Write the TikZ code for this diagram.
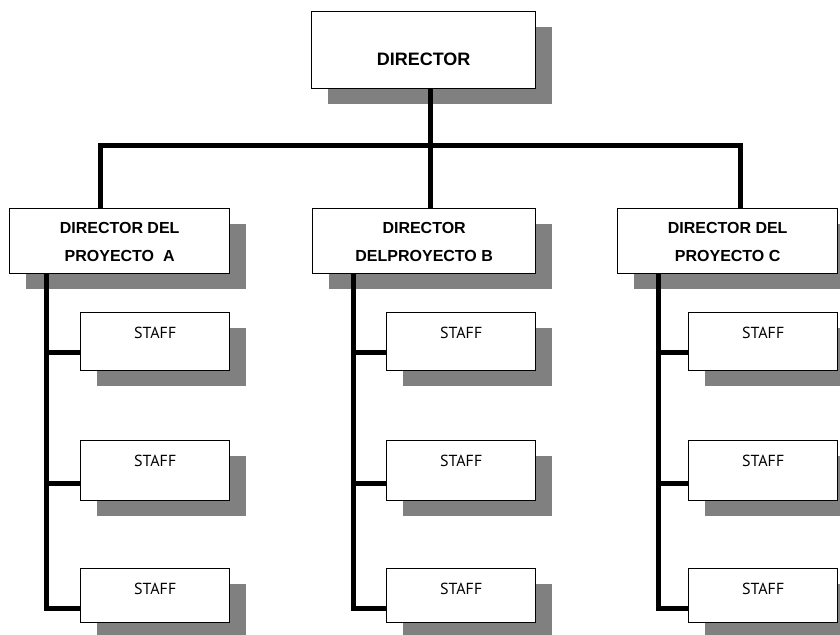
\documentclass[tikz,border=0pt]{standalone}
\usepackage{fontspec}
\setmainfont{Liberation Sans}
\newfontfamily\stafffont{PT Sans}
\usetikzlibrary{shadows}
\begin{document}
\begin{tikzpicture}[x=1bp,y=-1bp,
 box/.style={draw=black, line width=1.3bp, fill=white, inner sep=0pt, anchor=north west,
   drop shadow={shadow xshift=16bp, shadow yshift=-15bp, fill=black!50, opacity=1}},
 dbox/.style={box, minimum height=65bp},
 sbox/.style={box, minimum width=149bp},
 conn/.style={line width=5bp},
 dtext/.style={font=\bfseries\fontsize{16bp}{28bp}\selectfont, align=center, inner sep=0pt},
 stext/.style={font=\stafffont\fontsize{16bp}{19bp}\selectfont, inner sep=0pt}]
\clip (0,0) rectangle (840,635);
% director
\node[box, minimum width=224bp, minimum height=77bp] (D) at (311,11) {};
% project directors
\node[dbox, minimum width=220bp] (A) at (9,208) {};
\node[dbox, minimum width=223bp] (B) at (312,208) {};
\node[dbox, minimum width=220bp] (C) at (617,208) {};
% staff
\foreach \c/\x in {A/80, B/386, C/688}{
  \node[sbox, minimum height=58bp] (\c1) at (\x,312) {};
  \node[sbox, minimum height=60bp] (\c2) at (\x,440) {};
  \node[sbox, minimum height=54bp] (\c3) at (\x,568) {};
}
% texts
\node[dtext, font=\bfseries\fontsize{18bp}{20bp}\selectfont] (tD) at ([yshift=-9bp]D.center) {DIRECTOR};
\node[dtext] (tA) at ([yshift=-1bp]A.center) {DIRECTOR DEL\\PROYECTO~ A};
\node[dtext] (tB) at ([yshift=-1bp]B.center) {DIRECTOR\\DELPROYECTO B};
\node[dtext] (tC) at ([yshift=-1bp]C.center) {DIRECTOR DEL\\PROYECTO C};
\foreach \c in {A,B,C}{
  \foreach \r in {1,2,3}{
    \node[stext] (s\c\r) at ([yshift=-20.5bp]\c\r.north) {STAFF};
  }
}
% top connectors
\coordinate (bar) at (0,145.5);
\coordinate (pA) at ([xshift=91bp]A.north west);
\coordinate (pB) at ([xshift=118bp]B.north west);
\coordinate (pC) at ([xshift=123bp]C.north west);
\coordinate (pD) at ([xshift=119bp]D.south west);
\draw[conn] (pA) -- (pA |- bar) -- (pC |- bar) -- (pC);
\draw[conn] (pB) -- (pB |- bar);
\draw[conn] (pD) -- (pD |- bar);
% trunks and branches
\foreach \c/\dx in {A/37, B/41, C/41}{
  \coordinate (t\c) at ([xshift=\dx bp]\c.south west);
  \coordinate (b\c1) at ([yshift=-11bp]\c1.west);
  \coordinate (b\c2) at ([yshift=-13bp]\c2.west);
  \coordinate (b\c3) at ([yshift=-13bp]\c3.west);
  \draw[conn] (t\c) |- (b\c3);
  \draw[conn] (t\c |- b\c1) -- (b\c1);
  \draw[conn] (t\c |- b\c2) -- (b\c2);
}
\end{tikzpicture}
\end{document}
